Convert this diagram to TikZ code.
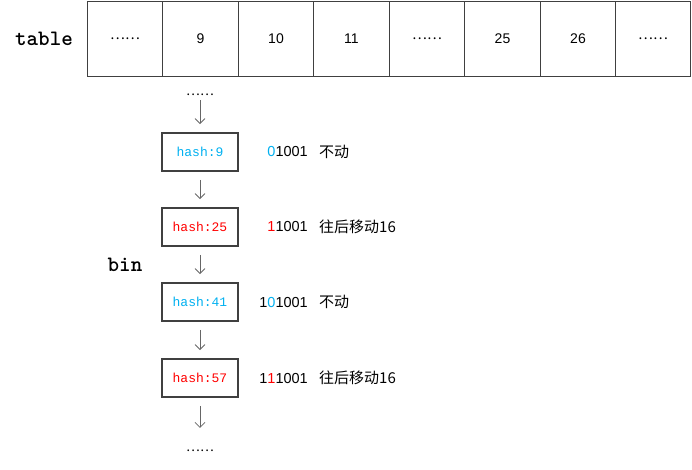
\documentclass[tikz,border=0pt]{standalone}
\usepackage{fontspec}
\setmainfont{Liberation Sans}
\setmonofont{Liberation Mono}
\newfontfamily\cjk{Noto Sans CJK SC}
\newfontfamily\labelfont{lmmonolt10-bold.otf}
\usepackage{tikz}
\usetikzlibrary{arrows.meta,positioning,calc}
\definecolor{hashblue}{RGB}{0,176,240}
\definecolor{hashred}{RGB}{255,0,0}
\definecolor{edgegray}{RGB}{64,64,64}
\tikzstyle{cell}=[draw=edgegray, line width=1pt, minimum width=75.4pt, minimum height=75pt, inner sep=0pt, font=\fontsize{14}{14}\selectfont]
\tikzstyle{hashbox}=[draw=edgegray, line width=1.8pt, minimum width=76pt, minimum height=38pt, inner sep=0pt, font=\ttfamily\fontsize{13}{13}\selectfont]

\begin{document}
\begin{tikzpicture}[x=1pt,y=-1pt,
bold/.style={font=\labelfont\fontsize{22}{22}\selectfont},
dots/.style={font=\cjk\fontsize{13}{13}\selectfont, inner sep=0pt},
bits/.style={anchor=east, inner sep=0pt, font=\fontsize{14.5}{14.5}\selectfont},
note/.style={anchor=west, inner sep=0pt, font=\cjk\fontsize{15}{15}\selectfont},
link/.style={draw=edgegray!80, line width=0.8pt, -{Straight Barb[length=5pt,width=10pt]}, shorten <=8pt, shorten >=8pt}]
\useasboundingbox (0,0) rectangle (692,469);
% table
\node (tab) at (44,39) [bold] {table};
\node (c1) at (125,38.5)[cell] {{\cjk ……}};
\node (c2) at (200.5,38.5)[cell] {9};
\node (c3) at (276,38.5)[cell] {10};
\node (c4) at (351.5,38.5)[cell] {11};
\node (c5) at (427,38.5)[cell] {{\cjk ……}};
\node (c6) at (502.5,38.5)[cell] {25};
\node (c7) at (578,38.5)[cell] {26};
\node (c8) at (653,38.5)[cell] {{\cjk ……}};
% bin
\node (bin) at (125,265) [bold] {bin};
\node (top) at (200,95)[dots] {……};
\node (h9) at (200,152)[hashbox] {\textcolor{hashblue}{hash:9}};
\node (h25) at (200,227)[hashbox] {\textcolor{hashred}{hash:25}};
\node (h41) at (200,302)[hashbox] {\textcolor{hashblue}{hash:41}};
\node (h57) at (200,378)[hashbox] {\textcolor{hashred}{hash:57}};
\node (end) at (200,451)[dots] {……};
\draw[link, shorten <=4pt] (top) -- (h9);
\draw[link] (h9) -- (h25);
\draw[link] (h25) -- (h41);
\draw[link] (h41) -- (h57);
\draw[link, shorten >=22pt] (h57) -- (end);
% bits
\node (b9) at (308,152)[bits] {\textcolor{hashblue}{0}1001};
\node (b25) at (308,227)[bits] {\textcolor{hashred}{1}1001};
\node (b41) at (308,302)[bits] {1\textcolor{hashblue}{0}1001};
\node (b57) at (308,378)[bits] {1\textcolor{hashred}{1}1001};
\node (n9) at (319,152)[note] {不动};
\node (n25) at (319,227)[note] {往后移动16};
\node (n41) at (319,302)[note] {不动};
\node (n57) at (319,378)[note] {往后移动16};
\end{tikzpicture}
\end{document}
